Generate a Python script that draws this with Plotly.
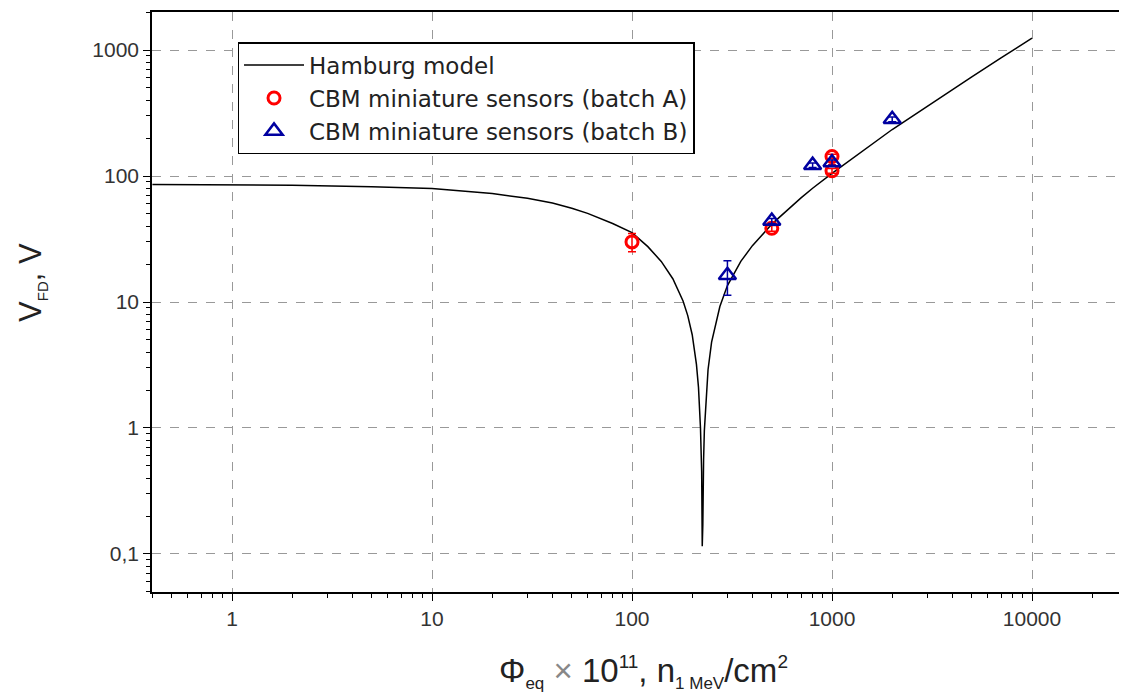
import plotly.graph_objects as go

# Hamburg model curve
model_phi = [0.4, 1, 2, 5, 10, 20, 30, 40, 50, 60, 70, 80, 100, 120, 140, 160, 180,
             190, 200, 210, 215, 220, 223, 224.5, 226, 228, 230, 240, 250, 275, 300,
             350, 400, 500, 600, 700, 800, 1000, 2000, 3000, 5000, 7000, 10000]
model_v = [85.7, 85.2, 84.5, 82.2, 79.5, 72.5, 66.5, 61.0, 55.5, 50.5, 46.0, 42.0, 35.5,
           27.5, 21.0, 15.3, 10.2, 7.8, 5.5, 3.2, 2.1, 1.0, 0.45, 0.115, 0.17, 0.56, 0.95,
           2.9, 4.8, 9.2, 13.5, 21.0, 28.0, 41.5, 54.0, 67.0, 80.0, 105.0, 234.0, 360.0,
           612.0, 865.0, 1245.0]

# CBM miniature sensors, batch A
a_phi = [100, 500, 1000, 1000]
a_v = [30, 38.5, 143, 110]
a_err = [5, 2, 6, 5]

# CBM miniature sensors, batch B
b_phi = [300, 500, 800, 1000, 2000]
b_v = [16.3, 44, 122, 128, 282]
b_err = [5, 2, 5, 6, 12]

ytick_vals = [0.1, 1, 10, 100, 1000]
ytick_text = ["0,1", "1", "10", "100", "1000"]
xtick_vals = [1, 10, 100, 1000, 10000]
xtick_text = ["1", "10", "100", "1000", "10000"]

x_minor = [m * 10 ** d for d in range(-1, 5) for m in range(2, 10)]
y_minor = [m * 10 ** d for d in range(-2, 4) for m in range(2, 10)]

RED = "#ff0000"
BLUE = "#0000a0"

fig = go.Figure()
fig.add_trace(go.Scatter(x=model_phi, y=model_v, mode="lines",
                         line=dict(color="black", width=1.5),
                         name="Hamburg model"))
fig.add_trace(go.Scatter(x=a_phi, y=a_v, mode="markers",
                         marker=dict(symbol="circle-open", size=12, color=RED,
                                     line=dict(width=3, color=RED)),
                         error_y=dict(type="data", array=a_err, color=RED,
                                      thickness=1.5, width=4),
                         name="CBM miniature sensors (batch A)"))
fig.add_trace(go.Scatter(x=b_phi, y=b_v, mode="markers",
                         marker=dict(symbol="triangle-up-open", size=15, color=BLUE,
                                     line=dict(width=2.5, color=BLUE)),
                         error_y=dict(type="data", array=b_err, color=BLUE,
                                      thickness=1.5, width=4),
                         name="CBM miniature sensors (batch B)"))

fig.update_layout(
    width=1127, height=697,
    margin=dict(l=144, r=0, t=4, b=113, autoexpand=False),
    plot_bgcolor="white", paper_bgcolor="white",
    font=dict(family="Liberation Sans, Arial, sans-serif", color="#222222"),
    showlegend=True,
    legend=dict(x=0.087, y=0.948, xanchor="left", yanchor="top",
                bordercolor="black", borderwidth=1.5, bgcolor="white",
                font=dict(size=23, color="#222222",
                          family="DejaVu Sans, Liberation Sans, sans-serif"),
                tracegroupgap=0, itemwidth=60),
    annotations=[dict(
        text="V<sub><span style='font-size:15px'>FD</span></sub>, V",
        textangle=-90, xref="paper", yref="paper", x=-0.122, y=0.533,
        xanchor="center", yanchor="middle", showarrow=False,
        font=dict(size=31, color="#222222"))],
)
fig.update_xaxes(
    type="log", range=[-0.4, 4.515],
    tickvals=xtick_vals, ticktext=xtick_text,
    tickfont=dict(size=21, color="#333333"),
    showline=True, linecolor="black", linewidth=1.5, mirror=True,
    ticks="outside", ticklen=7, tickcolor="black",
    minor=dict(ticks="outside", ticklen=4, tickcolor="black", showgrid=False,
               tickmode="array", tickvals=x_minor),
    showgrid=True, gridcolor="#999999", griddash="dash", gridwidth=1,
    zeroline=False,
    title=dict(text="Φ<sub><span style='font-size:17px'>eq</span></sub> "
                    "<span style='color:#888888'>×</span> 10<sup><span style='font-size:19px'>11</span></sup>, "
                    "n<sub><span style='font-size:17px'>1 MeV</span></sub>/cm<sup><span style='font-size:19px'>2</span></sup>",
               font=dict(size=33, color="#222222"), standoff=30),
)
fig.update_yaxes(
    type="log", range=[-1.302, 3.302],
    tickvals=ytick_vals, ticktext=ytick_text,
    tickfont=dict(size=21, color="#333333"),
    showline=True, linecolor="black", linewidth=1.5,
    ticks="outside", ticklen=7, tickcolor="black",
    minor=dict(ticks="outside", ticklen=4, tickcolor="black", showgrid=False,
               tickmode="array", tickvals=y_minor),
    showgrid=True, gridcolor="#999999", griddash="dash", gridwidth=1,
    zeroline=False,
)

fig.write_html("out.html")
